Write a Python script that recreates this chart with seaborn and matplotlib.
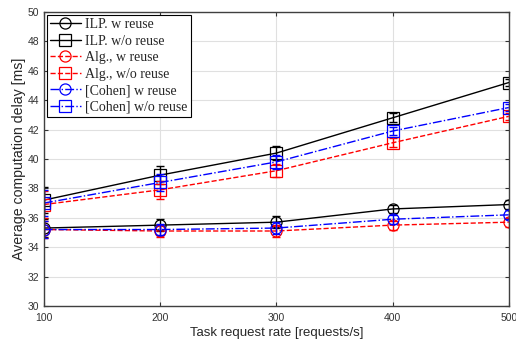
import numpy as np
import pandas as pd
import matplotlib
matplotlib.use("Agg")
import matplotlib.pyplot as plt
import seaborn as sns

rates = [100, 200, 300, 400, 500]

ilp_w = [35.3, 35.5, 35.7, 36.6, 36.9]
ilp_wo = [37.2, 38.9, 40.4, 42.8, 45.2]
alg_w = [35.2, 35.1, 35.1, 35.5, 35.7]
alg_wo = [36.9, 37.9, 39.2, 41.1, 42.9]
coh_w = [35.2, 35.2, 35.3, 35.9, 36.2]
coh_wo = [37.0, 38.4, 39.8, 41.9, 43.5]

err_w = [0.6, 0.4, 0.4, 0.3, 0.3]
err_wo = [0.9, 0.6, 0.45, 0.3, 0.25]

labels = ["ILP. w reuse", "ILP. w/o reuse", "Alg., w reuse",
          "Alg., w/o reuse", "[Cohen] w reuse", "[Cohen] w/o reuse"]

series = [ilp_w, ilp_wo, alg_w, alg_wo, coh_w, coh_wo]
errs = [err_w, err_wo, err_w, err_wo, err_w, err_wo]
colors = ["black", "black", "red", "red", "blue", "blue"]
styles = ["-", "-", "--", "--", "-.", "-."]
markers = ["o", "s", "o", "s", "o", "s"]

sns.set_style("whitegrid")
plt.rcParams["font.family"] = ["Liberation Sans", "DejaVu Sans"]

fig, ax = plt.subplots(figsize=(5.16, 3.43), dpi=100)
fig.subplots_adjust(left=0.085, right=0.986, bottom=0.108, top=0.965)

for vals, e, c, ls, m, lab in zip(series, errs, colors, styles, markers, labels):
    df = pd.DataFrame({"rate": rates, "delay": vals})
    sns.lineplot(data=df, x="rate", y="delay", ax=ax, color=c, linestyle=ls,
                 marker=m, markersize=8, markerfacecolor="none",
                 markeredgecolor=c, markeredgewidth=0.9, linewidth=1.0,
                 label=lab)
    ax.errorbar(rates, vals, yerr=e, fmt="none", ecolor=c, elinewidth=1.0,
                capsize=3, capthick=1.0)

ax.set_xlim(100, 500)
ax.set_ylim(30, 50)
ax.set_xticks(rates)
ax.set_yticks(np.arange(30, 51, 2))
ax.tick_params(axis="both", labelsize=7.5, colors="#333333", direction="in",
               length=3, top=True, right=True, left=True, bottom=True,
               labelcolor="#333333")
ax.tick_params(axis="x", pad=5)
ax.grid(True, color="#e0e0e0", linewidth=0.8)
for s in ax.spines.values():
    s.set_color("#404040")
    s.set_linewidth(1.0)
ax.set_xlabel("Task request rate [requests/s]", fontsize=9.5, color="#262626", labelpad=3)
ax.set_ylabel("Average computation delay [ms]", fontsize=10.2, color="#262626", labelpad=1)

handles, labs = ax.get_legend_handles_labels()
leg = ax.legend(handles, labs, loc="upper left", fancybox=False, framealpha=1,
                edgecolor="black", prop={"family": "Liberation Serif", "size": 10},
                handlelength=2.2, handletextpad=0.3, borderpad=0.25,
                labelspacing=0.25, borderaxespad=0.2)
leg.get_frame().set_linewidth(0.8)

fig.savefig("out.png", dpi=100)
